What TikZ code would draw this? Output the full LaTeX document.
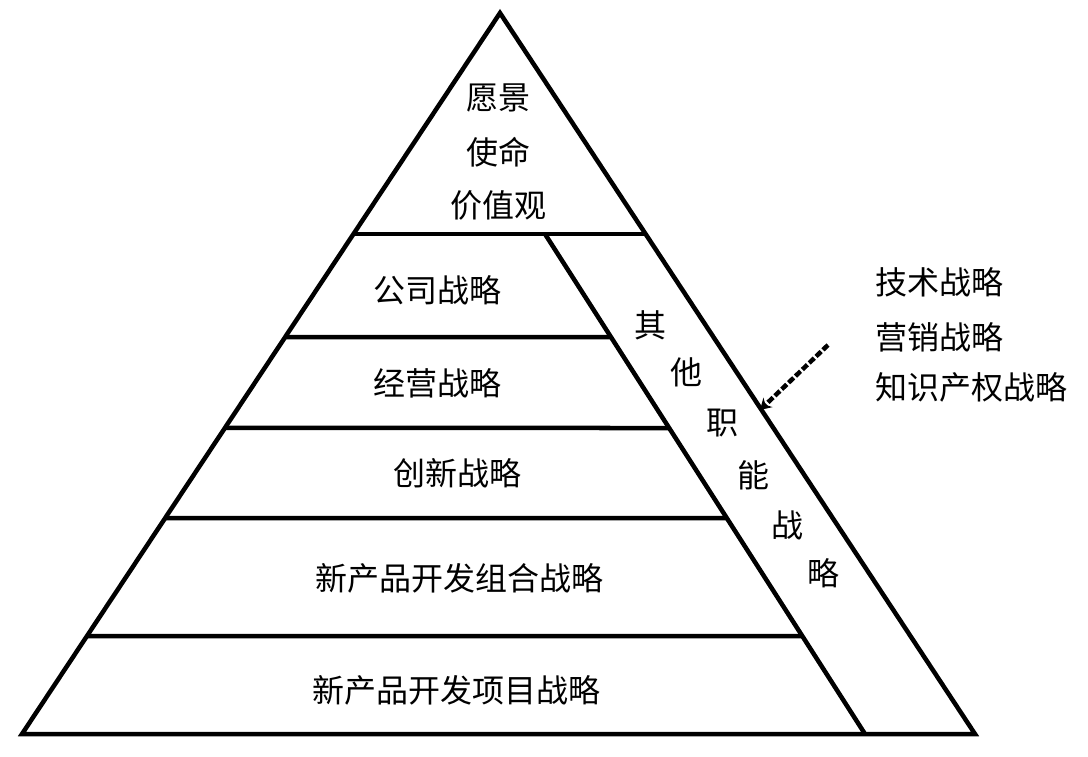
\documentclass[tikz,border=0pt]{standalone}
\usepackage{fontspec}
\newfontfamily\cjk{Noto Sans CJK SC}
\usetikzlibrary{arrows.meta,positioning,calc}

\begin{document}
\begin{tikzpicture}[x=1pt,y=-1pt,line width=4.5pt,
  every node/.style={font=\cjk\fontsize{32}{38}\selectfont,inner sep=0pt}]
\useasboundingbox (0,0) rectangle (1088,756);
\coordinate (apex) at (500,13);
\coordinate (bl) at (22,734);
\coordinate (br) at (975,734);
\coordinate (in1) at (545,234);
\coordinate (in2) at (865,734);
% pyramid
\draw[line join=miter] (bl) -- (apex) -- (br) -- cycle;
\draw ($(apex)!{221/721}!(bl)$) -- ($(apex)!{221/721}!(br)$);
\draw (in1) -- (in2);
\foreach \yy in {337,428,518,636}
  \draw ($(apex)!{(\yy-13)/721}!(bl)$) -- ($(in1)!{(\yy-234)/500}!(in2)$);
% layers
\node (vision) at (498,98) {愿景};
\node (mission) at (498,152) {使命};
\node (values) at (498,205) {价值观};
\node (corp) at (437,290) {公司战略};
\node (biz) at (437,383) {经营战略};
\node (innov) at (457,473) {创新战略};
\node (combo) at (459,578) {新产品开发组合战略};
\node (proj) at (456,690) {新产品开发项目战略};
% side band
\foreach \ch/\px/\py [count=\i] in {其/650/325,他/686/372,职/722/423,能/753/475,战/787/525,略/823/573}
  \node (side\i) at (\px,\py) {\ch};
% other functions
\node[anchor=west] (tech) at (873,282) {技术战略};
\node[anchor=west] (mkt) at (873,337) {营销战略};
\node[anchor=west] (ip) at (873,387) {知识产权战略};
\coordinate (tail) at (828,345);
\coordinate (tip) at (760,410);
\draw[line width=4.5pt,dash pattern=on 7pt off 2.5pt,-{Stealth[length=11pt,width=13pt]}] (tail) -- (tip);
\end{tikzpicture}
\end{document}
